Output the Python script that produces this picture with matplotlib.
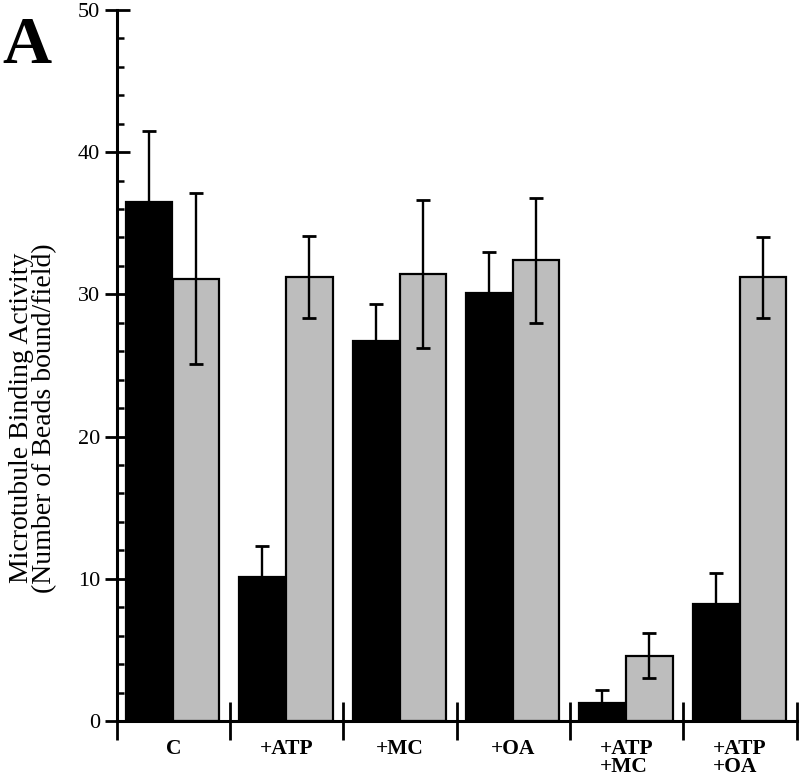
import numpy as np
import matplotlib.pyplot as plt
from matplotlib.ticker import MultipleLocator, FixedLocator

####################################################################################################
#                                              Data                                                #
####################################################################################################
categories = ["C", "+ATP", "+MC", "+OA", "+ATP\n+MC", "+ATP\n+OA"]

black_values = [36.5, 10.1, 26.7, 30.1, 1.25, 8.2]
black_errors = [5.0, 2.2, 2.6, 2.9, 0.95, 2.2]

gray_values = [31.1, 31.2, 31.4, 32.4, 4.6, 31.2]
gray_errors = [6.0, 2.9, 5.2, 4.4, 1.6, 2.85]

y_major = [0, 10, 20, 30, 40, 50]

####################################################################################################
#                                             Plotting                                             #
####################################################################################################
def bar_panel():
    plt.rcParams['font.family'] = ['Liberation Serif', 'DejaVu Serif']

    fig = plt.figure(figsize=(8, 7.78), dpi=100)
    ax = fig.add_axes([0.146, 0.0733, 0.85, 0.914])

    x = np.arange(len(categories))
    width = 0.41
    edge_lw = 1.6

    ax.bar(x - 0.215, black_values, width=width, color='black',
           edgecolor='black', linewidth=edge_lw, zorder=2)
    ax.bar(x + 0.2, gray_values, width=width, color='#bdbdbd',
           edgecolor='black', linewidth=edge_lw, zorder=2)

    err_kw = dict(fmt='none', ecolor='black', elinewidth=1.7,
                  capsize=5, capthick=2.0, zorder=3)
    ax.errorbar(x - 0.215, black_values, yerr=black_errors, **err_kw)
    ax.errorbar(x + 0.2, gray_values, yerr=gray_errors, **err_kw)

    # Axes limits
    ax.set_xlim(-0.5, len(categories) - 0.5)
    ax.set_ylim(0, 50)

    # Spines
    for side in ['top', 'right']:
        ax.spines[side].set_visible(False)
    for side in ['left', 'bottom']:
        ax.spines[side].set_linewidth(2.2)
        ax.spines[side].set_zorder(4)

    # Y ticks: major in/out, minor inward every 2
    ax.set_yticks(y_major)
    ax.yaxis.set_minor_locator(MultipleLocator(2))
    ax.tick_params(axis='y', which='major', direction='inout', length=18,
                   width=2.0, labelsize=16, pad=3)
    ax.tick_params(axis='y', which='minor', direction='in', length=5, width=1.8)

    # X ticks: boundaries as major ticks, labels on minor ticks at group centres
    bounds = np.arange(len(categories) + 1) - 0.5
    ax.xaxis.set_major_locator(FixedLocator(bounds))
    ax.xaxis.set_minor_locator(FixedLocator(x))
    ax.tick_params(axis='x', which='major', direction='inout', length=27,
                   width=2.0, labelbottom=False)
    ax.tick_params(axis='x', which='minor', length=0, pad=13, labelsize=15.5)
    ax.set_xticklabels(categories, minor=True, fontweight='bold', linespacing=0.85,
                       va='top', multialignment='left')

    # Y axis label
    fig.text(0.041, 0.463, "Microtubule Binding Activity\n(Number of Beads bound/field)",
             rotation=90, ha='center', va='center', fontsize=20, linespacing=0.9)

    # Panel letter
    fig.text(0.003, 0.919, "A", fontsize=49, fontweight='bold', ha='left', va='baseline')

    return fig, ax


def main():
    fig, ax = bar_panel()
    fig.savefig("out.png", dpi=100)


if __name__ == "__main__":
    main()
